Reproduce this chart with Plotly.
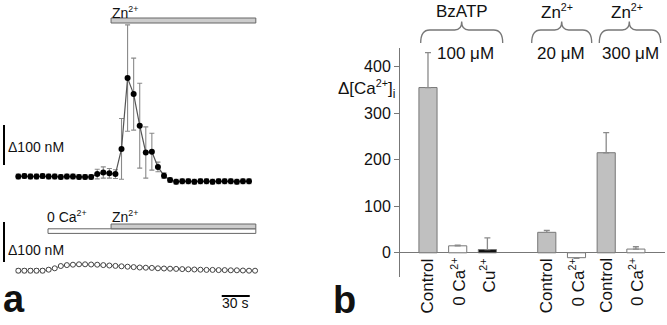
import plotly.graph_objects as go

W, H = 667, 325
FONT = "Liberation Sans, Arial, sans-serif"

# ---------------- panel a: [Ca2+]i time courses (nM) ----------------
dt = 6.5  # seconds between samples

# Zn2+ applied in normal extracellular Ca2+ (mean, s.e.m.)
ca_mean = [80, 81, 80, 80, 81, 80, 80, 79, 80, 80, 79, 79, 79,
           86, 90, 88, 86, 149, 326, 286, 207, 140, 142, 104, 82,
           71, 67, 68, 68, 67, 68, 68, 67, 68, 68, 68, 67, 68, 68]
ca_sem = [6, 6, 6, 6, 6, 6, 6, 6, 6, 6, 6, 6, 6,
          12, 14, 12, 11, 76, 133, 90, 106, 64, 46, 12, 7,
          6, 6, 6, 6, 6, 6, 6, 6, 6, 6, 6, 6, 6, 6]

# Zn2+ applied in Ca2+-free medium (mean, s.e.m.)
zero_ca_mean = [80, 80, 80, 80, 80, 82.5, 86, 91.7, 94, 95, 96, 96, 95.5,
                95, 94, 93, 92, 91, 90, 89, 88, 87.5, 87, 86, 85.5, 85,
                84.5, 84, 83.5, 83, 82.5, 82, 82, 81.5, 81.5, 81, 81,
                80.5, 80, 80]
zero_ca_sem = [5, 5, 5, 5, 5, 4, 2, 2, 2, 2, 2, 2, 2, 2, 2, 2, 2, 2, 2, 2,
               2, 2, 2, 2, 2, 2, 2, 2, 2, 2, 2, 2, 2, 2, 2, 2, 2, 2, 2, 2]

t_ca = [i * dt for i in range(len(ca_mean))]
t_zero_ca = [i * dt for i in range(len(zero_ca_mean))]

# ---------------- panel b: peak Δ[Ca2+]i (nM) ----------------
SUP = "<sup><span style='font-size:90%'>2+</span></sup>"
bar_labels = ["Control", "0 Ca" + SUP, "Cu" + SUP,
              "Control", "0 Ca" + SUP, "Control", "0 Ca" + SUP]
bar_pos = [0, 1, 2, 4, 5, 6, 7]
bar_values = [355, 15, 7, 44, -10.5, 215, 8]
bar_err_up = [75, 1.5, 25, 4, 0, 43, 5]
bar_err_down = [0, 0, 0, 0, 1.5, 0, 0]
bar_fill = ["#c0c0c0", "#ffffff", "#111111", "#c0c0c0", "#ffffff",
            "#c0c0c0", "#ffffff"]
groups = [("BzATP", "100 μM"), ("Zn" + SUP, "20 μM"),
          ("Zn" + SUP, "300 μM")]


def px(x):
    return x / W


def py(y):
    return 1 - y / H


fig = go.Figure()

fig.add_trace(go.Scatter(
    x=t_ca, y=ca_mean, mode="lines+markers",
    line=dict(color="#555555", width=1.2),
    marker=dict(color="#000000", size=6),
    error_y=dict(type="data", array=ca_sem, color="#8a8a8a",
                 thickness=1.1, width=2.5),
    xaxis="x", yaxis="y"))

fig.add_trace(go.Scatter(
    x=t_zero_ca, y=zero_ca_mean, mode="lines+markers",
    line=dict(color="#666666", width=1),
    marker=dict(color="#ffffff", size=5,
                line=dict(color="#444444", width=1)),
    error_y=dict(type="data", array=zero_ca_sem, color="#8a8a8a",
                 thickness=1, width=2.5),
    xaxis="x2", yaxis="y2"))

fig.add_trace(go.Bar(
    x=bar_pos, y=bar_values, width=0.61,
    marker=dict(color=bar_fill, line=dict(color="#777777", width=1)),
    error_y=dict(type="data", symmetric=False, array=bar_err_up,
                 arrayminus=bar_err_down, color="#8a8a8a",
                 thickness=1.3, width=3),
    xaxis="x3", yaxis="y3"))

# time axis: 18.3 px offset, 0.934 px per second
t_range = [-18.3 / 0.934, (270 - 18.3) / 0.934]
hidden = dict(visible=False, fixedrange=True)

shapes = []
annotations = []


def note(text, x, y, size=14, xanchor="left", yanchor="middle", **kw):
    annotations.append(dict(text=text, x=px(x), y=py(y), xref="paper",
                            yref="paper", showarrow=False, xanchor=xanchor,
                            yanchor=yanchor, font=dict(size=size,
                                                       color="#111111",
                                                       family=FONT), **kw))


# application bars (x in seconds, y in px)
def app_bar(t0, t1, y0, y1, fill):
    shapes.append(dict(type="rect", xref="x", yref="paper", x0=t0, x1=t1,
                       y0=py(y1), y1=py(y0), fillcolor=fill,
                       line=dict(color="#666666", width=1)))


app_bar(99.3, 254.3, 18, 23, "#cccccc")
app_bar(31.8, 254.3, 228.8, 233.4, "#ffffff")
app_bar(99.3, 254.3, 224, 228.8, "#cccccc")

# 100 nM scale bars
shapes.append(dict(type="line", xref="paper", yref="y", x0=px(4), x1=px(4),
                   y0=108.75, y1=208.75, line=dict(color="#000", width=2)))
shapes.append(dict(type="line", xref="paper", yref="y2", x0=px(4), x1=px(4),
                   y0=101.75, y1=201.75, line=dict(color="#000", width=2)))
# 30 s scale bar
shapes.append(dict(type="line", xref="x2", yref="paper", x0=217.8, x1=247.8,
                   y0=py(296), y1=py(296), line=dict(color="#000", width=2)))

note("Zn" + SUP, 110, 12)
note("Δ100 nM", 6, 147)
note("Δ100 nM", 6, 250)
note("0 Ca" + SUP, 45, 216)
note("Zn" + SUP, 110, 216)
note("30 s", 235, 303, xanchor="center")
note("<b>a</b>", 1, 322, size=38, yanchor="bottom")
note("<b>b</b>", 331, 300, size=38)


# curly braces over the bar groups (pixel coordinates)
def brace(x0, x1, xm):
    yb, yt, yp = 43, 30, 21.5

    def P(x, y):
        return f"{px(x):.5f},{py(y):.5f}"
    path = (f"M {P(x0, yb)} Q {P(x0, yt)} {P(x0 + 9, yt)} "
            f"L {P(xm - 7, yt)} Q {P(xm, yt)} {P(xm, yp)} "
            f"Q {P(xm, yt)} {P(xm + 7, yt)} "
            f"L {P(x1 - 9, yt)} Q {P(x1, yt)} {P(x1, yb)}")
    shapes.append(dict(type="path", xref="paper", yref="paper", path=path,
                       line=dict(color="#777777", width=1.3)))


brace(420.7, 502.7, 461.7)
brace(531.7, 591.7, 561.7)
brace(599.3, 660.7, 629.3)

for (drug, conc), xt, xc in zip(groups, [462, 557, 627], [465.5, 561, 630]):
    note(drug, xt, 11, size=17, xanchor="center")
    note(conc, xc, 54, size=17, xanchor="center")

note("Δ[Ca" + SUP + "]<sub>i</sub>", 397, 89, size=17, xanchor="right")

for lab, xpos in zip(bar_labels, bar_pos):
    annotations.append(dict(text=lab, x=xpos, y=py(256), xref="x3",
                            yref="paper", showarrow=False, textangle=-90,
                            xanchor="center", yanchor="top",
                            font=dict(size=17, color="#111111", family=FONT)))

fig.update_layout(
    width=W, height=H, margin=dict(l=0, r=0, t=0, b=0),
    paper_bgcolor="white", plot_bgcolor="white", showlegend=False,
    font=dict(family=FONT, color="#111111"),
    xaxis=dict(domain=[0, px(270)], range=t_range, **hidden),
    yaxis=dict(domain=[py(200), py(5)], range=[21.25, 508.75], **hidden),
    xaxis2=dict(domain=[0, px(270)], range=t_range, anchor="y2", **hidden),
    yaxis2=dict(domain=[py(300), py(205)], range=[6.75, 244.25],
                anchor="x2", **hidden),
    xaxis3=dict(domain=[px(399), px(665)], range=[-0.976, 7.98],
                anchor="y3", visible=False, fixedrange=True),
    yaxis3=dict(domain=[py(277), py(48)], range=[-52, 440], anchor="free",
                position=px(399), showline=True, linecolor="#777777",
                linewidth=1, ticks="outside", ticklen=5, tickcolor="#777777",
                tickvals=[0, 100, 200, 300, 400], showgrid=False,
                zeroline=True, zerolinecolor="#777777", zerolinewidth=1,
                tickfont=dict(size=16, color="#111111", family=FONT),
                fixedrange=True),
    shapes=shapes, annotations=annotations,
)

fig.write_html("out.html")
